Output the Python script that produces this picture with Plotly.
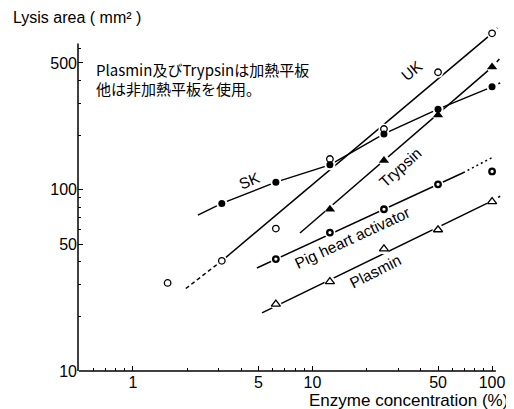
import numpy as np
import plotly.graph_objects as go

# ---------------- data ----------------
uk_x = [1.56, 3.125, 6.25, 12.5, 25, 50, 100]
uk_y = [30.6, 40.5, 61, 147.6, 216, 444, 728]
uk_fit_x = [3.125, 100]
uk_fit_y = [40.5, 728]
uk_dash_lo_x = [1.97, 3.125]
uk_dash_lo_y = [28.5, 40.5]
uk_dash_hi_x = [100, 107]
uk_dash_hi_y = [728, 780]

sk_x = [3.125, 6.25, 12.5, 25, 50, 100]
sk_y = [84, 110, 137, 203, 278, 369]
sk_line_x = [2.3, 3.125, 6.25, 12.5, 25, 50, 100]
sk_line_y = [72.4, 84, 110, 137, 203, 278, 369]
sk_dash_x = [100, 111]
sk_dash_y = [369, 388]

tryp_x = [12.5, 25, 50, 100]
tryp_y = [78, 145, 258, 474]
tryp_fit_x = [8.52, 100]
tryp_fit_y = [57.7, 474]
tryp_dash_x = [100, 111]
tryp_dash_y = [474, 532]

pig_x = [6.25, 12.5, 25, 50, 100]
pig_y = [41.4, 58, 78, 107, 126]
pig_fit_x = [4.9, 69]
pig_fit_y = [37.0, 124]
pig_dash_x = [69, 101]
pig_dash_y = [124, 151]

plas_x = [6.25, 12.5, 25, 50, 100]
plas_y = [23.4, 31.1, 47.2, 60.1, 86]
plas_fit_x = [5.23, 100]
plas_fit_y = [20.9, 86.7]
plas_dash_x = [100, 111]
plas_dash_y = [86.7, 92]

x_tick_vals = [1, 5, 10, 50, 100]
x_tick_text = ["1", "5", "10", "50", "100"]
x_minor_vals = [0.6, 0.7, 0.8, 0.9, 2, 3, 4, 6, 7, 8, 9, 20, 30, 40, 60, 70, 80, 90]
y_tick_vals = [10, 50, 100, 500]
y_tick_text = ["10", "50", "100", "500"]
y_minor_vals = [20, 30, 40, 60, 70, 80, 90, 200, 300, 400, 600]

labels = [
    ("UK", 35.8, 452, -40),
    ("SK", 4.48, 112, -22),
    ("Trypsin", 30.7, 133, -42),
    ("Pig heart activator", 16.8, 54.2, -25),
    ("Plasmin", 22.3, 35.2, -27),
]

note_lines = ["Plasmin及びTrypsinは加熱平板", "他は非加熱平板を使用。"]

# ---------------- figure ----------------
FONT = "Liberation Sans, Arial, sans-serif"
K = "black"
fig = go.Figure()


def line(x, y, dash="solid", width=1.5):
    fig.add_trace(go.Scatter(x=x, y=y, mode="lines",
                             line=dict(color=K, width=width, dash=dash),
                             hoverinfo="skip"))


line(uk_fit_x, uk_fit_y)
line(uk_dash_lo_x, uk_dash_lo_y, dash="4px,3px")
line(uk_dash_hi_x, uk_dash_hi_y, dash="4px,3px")
line(sk_line_x, sk_line_y)
line(sk_dash_x, sk_dash_y, dash="4px,3px")
line(tryp_fit_x, tryp_fit_y)
line(tryp_dash_x, tryp_dash_y, dash="4px,3px")
line(pig_fit_x, pig_fit_y)
line(pig_dash_x, pig_dash_y, dash="2px,3px")
line(plas_fit_x, plas_fit_y)
line(plas_dash_x, plas_dash_y, dash="4px,3px")

# white halos so lines stop short of the markers
all_x = uk_x + sk_x + tryp_x + pig_x + plas_x
all_y = uk_y + sk_y + tryp_y + pig_y + plas_y
fig.add_trace(go.Scatter(x=all_x, y=all_y, mode="markers",
                         marker=dict(color="white", size=11, line=dict(width=0)),
                         hoverinfo="skip", cliponaxis=False))

fig.add_trace(go.Scatter(x=uk_x, y=uk_y, mode="markers", cliponaxis=False,
                         marker=dict(symbol="circle", size=6.5, color="white",
                                     line=dict(color=K, width=1.3))))
fig.add_trace(go.Scatter(x=sk_x, y=sk_y, mode="markers", cliponaxis=False,
                         marker=dict(symbol="circle", size=7, color=K,
                                     line=dict(color=K, width=0))))
fig.add_trace(go.Scatter(x=tryp_x, y=tryp_y, mode="markers", cliponaxis=False,
                         marker=dict(symbol="triangle-up", size=9, color=K,
                                     line=dict(color=K, width=0))))
fig.add_trace(go.Scatter(x=pig_x, y=pig_y, mode="markers", cliponaxis=False,
                         marker=dict(symbol="circle", size=5.5, color="white",
                                     line=dict(color=K, width=2.3))))
fig.add_trace(go.Scatter(x=plas_x, y=plas_y, mode="markers", cliponaxis=False,
                         marker=dict(symbol="triangle-up", size=8, color="white",
                                     line=dict(color=K, width=1.3))))

# axes lines as shapes (so data may extend beyond)
fig.add_shape(type="line", xref="x", yref="paper", x0=0.5, x1=105, y0=0, y1=0,
              line=dict(color=K, width=1.5))
fig.add_shape(type="line", xref="paper", yref="y", x0=0, x1=0, y0=10, y1=640,
              line=dict(color=K, width=1.5))

for text, lx, ly, ang in labels:
    fig.add_annotation(x=np.log10(lx), y=np.log10(ly), xref="x", yref="y",
                       text=text, showarrow=False, textangle=ang,
                       font=dict(family=FONT, size=15.5, color=K))

# page body has an 8px margin -> figure is drawn at (8, 8); positions below are
# expressed in page pixels and converted to paper fractions of the 427x346 plot
PX0, PY0, PW, PH = 78, 371, 427, 346

for i, txt in enumerate(note_lines):
    fig.add_annotation(x=(95 - PX0) / PW, y=(PY0 - (69 + 19 * i)) / PH,
                       xref="paper", yref="paper",
                       xanchor="left", yanchor="middle", align="left",
                       text=txt, showarrow=False, borderpad=0,
                       font=dict(family="Noto Sans CJK JP, sans-serif", size=15, color=K))

fig.add_annotation(x=(11 - PX0) / PW, y=(PY0 - 17) / PH, xref="paper", yref="paper",
                   xanchor="left", yanchor="middle",
                   text="Lysis area ( mm² )", showarrow=False,
                   font=dict(family=FONT, size=16, color=K))
fig.add_annotation(x=(510 - PX0) / PW, y=(PY0 - 400) / PH, xref="paper", yref="paper",
                   xanchor="right", yanchor="middle",
                   text="Enzyme concentration (%)", showarrow=False,
                   font=dict(family=FONT, size=17, color=K))

fig.update_xaxes(type="log", range=[-0.306, 2.072], showline=False, showgrid=False,
                 zeroline=False, tickmode="array", tickvals=x_tick_vals,
                 ticktext=x_tick_text, ticks="inside", ticklen=5, tickwidth=1.3,
                 tickcolor=K, tickfont=dict(family=FONT, size=16, color=K),
                 minor=dict(tickmode="array", tickvals=x_minor_vals, ticks="inside",
                            ticklen=3, tickwidth=1.2, tickcolor=K, showgrid=False))
fig.update_yaxes(type="log", range=[1, 2.908], showline=False, showgrid=False,
                 zeroline=False, tickmode="array", tickvals=y_tick_vals,
                 ticktext=y_tick_text, ticks="inside", ticklen=5, tickwidth=1.3,
                 tickcolor=K, tickfont=dict(family=FONT, size=16, color=K),
                 minor=dict(tickmode="array", tickvals=y_minor_vals, ticks="inside",
                            ticklen=3, tickwidth=1.2, tickcolor=K, showgrid=False))

fig.update_layout(width=506, height=401, showlegend=False,
                  margin=dict(l=70, r=9, t=17, b=38),
                  paper_bgcolor="white", plot_bgcolor="white",
                  font=dict(family=FONT, color=K))

fig.write_html("out.html")
